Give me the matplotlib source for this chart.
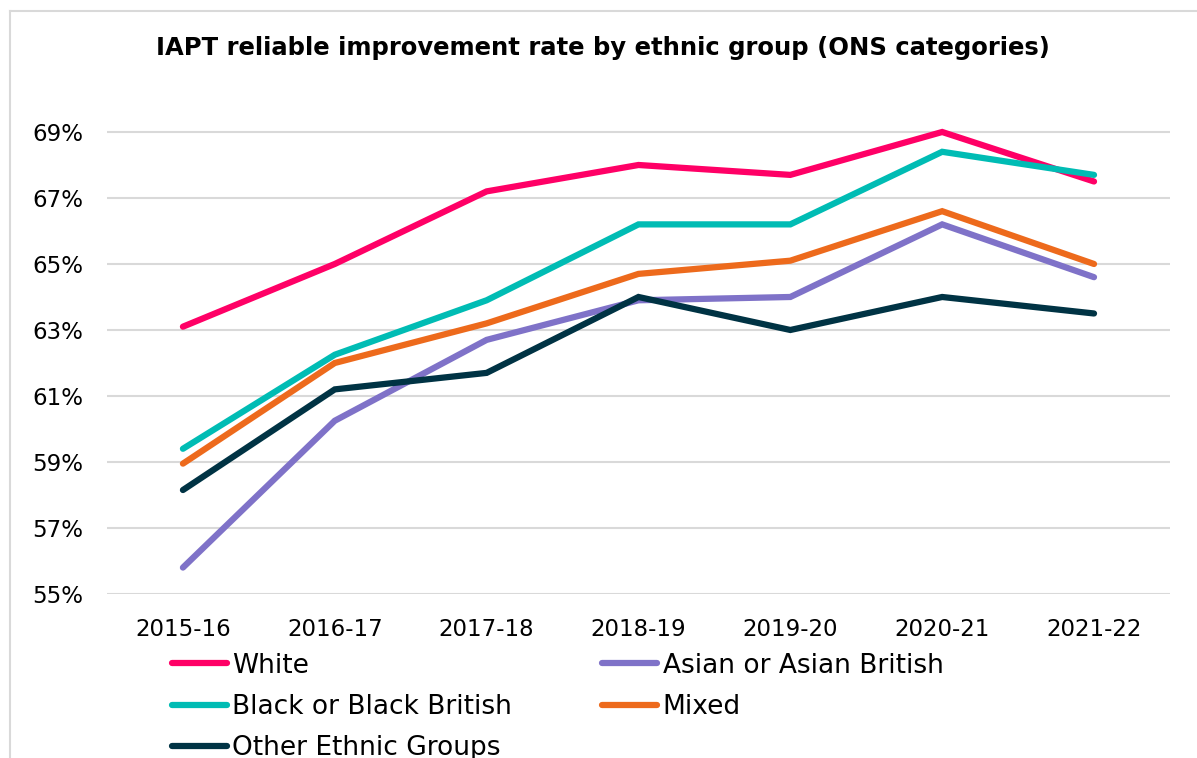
import matplotlib.pyplot as plt
from matplotlib.lines import Line2D
from matplotlib.ticker import FuncFormatter

plt.rcParams['font.family'] = ['DejaVu Sans']

years = ['2015-16', '2016-17', '2017-18', '2018-19', '2019-20', '2020-21', '2021-22']

# series values (percent)
white = [63.1, 65.0, 67.2, 68.0, 67.7, 69.0, 67.5]
asian = [55.8, 60.25, 62.7, 63.9, 64.0, 66.2, 64.6]
black = [59.4, 62.25, 63.9, 66.2, 66.2, 68.4, 67.7]
mixed = [58.95, 62.0, 63.2, 64.7, 65.1, 66.6, 65.0]
other = [58.15, 61.2, 61.7, 64.0, 63.0, 64.0, 63.5]

series = [
    ('White', white, '#FF0066'),
    ('Asian or Asian British', asian, '#7F72C8'),
    ('Black or Black British', black, '#00BCB4'),
    ('Mixed', mixed, '#ED6A1C'),
    ('Other Ethnic Groups', other, '#003344'),
]

fig = plt.figure(figsize=(11.97, 7.58), dpi=100)
ax = fig.add_axes([0.0894, 0.2164, 0.888, 0.653])

lines = {}
for name, vals, col in series:
    ln, = ax.plot(range(len(years)), vals, color=col, lw=4.5,
                  solid_capstyle='round', solid_joinstyle='miter', label=name)
    lines[name] = ln

ax.set_xlim(-0.5, 6.5)
ax.set_ylim(55, 70)
ax.set_yticks(range(55, 70, 2))
ax.yaxis.set_major_formatter(FuncFormatter(lambda v, p: '%d%%' % v))
ax.set_xticks(range(len(years)))
ax.set_xticklabels(years)
ax.grid(axis='y', color='#D9D9D9', lw=1.5)
ax.set_axisbelow(True)
for s in ax.spines.values():
    s.set_visible(False)
ax.tick_params(length=0, labelsize=16.5, colors='#000000')
ax.tick_params(axis='x', pad=17)
ax.tick_params(axis='y', pad=17)

fig.text(0.504, 0.937, 'IAPT reliable improvement rate by ethnic group (ONS categories)',
         ha='center', va='center', fontsize=17.5, fontweight='bold')

# legend: row-major order like the original, so list column by column
order = ['White', 'Black or Black British', 'Other Ethnic Groups',
         'Asian or Asian British', 'Mixed']
fig.legend([lines[n] for n in order], order, ncol=2, frameon=False,
           loc='upper left', bbox_to_anchor=(0.1345, 0.153),
           fontsize=19, handlelength=2.1, handletextpad=0.2,
           columnspacing=3.4, labelspacing=0.58, borderaxespad=0)

# light frame, only top and left edges fall inside the picture
bx, by = 9.5 / 1197, 1 - 11 / 758
fig.add_artist(Line2D([bx, 1.0], [by, by], transform=fig.transFigure,
                      color='#D9D9D9', lw=1.5))
fig.add_artist(Line2D([bx, bx], [0.0, by], transform=fig.transFigure,
                      color='#D9D9D9', lw=1.5))

fig.savefig('out.png', dpi=100)
